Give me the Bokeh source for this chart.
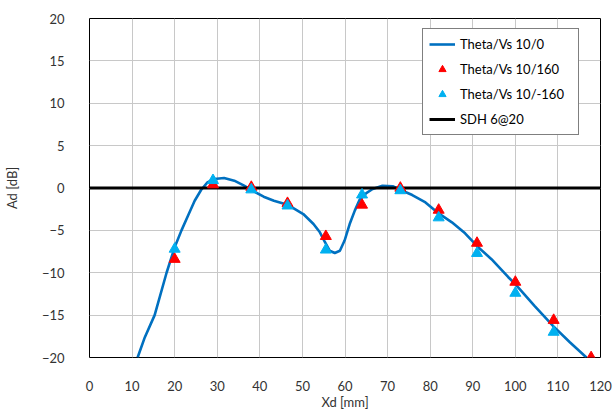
from bokeh.plotting import figure
from bokeh.models import Range1d, FixedTicker, Legend, LegendItem
from bokeh.embed import file_html
from bokeh.resources import INLINE

# --- data ---
curve_x = [11.3, 13.0, 15.3, 18.1, 20.0, 21.6, 23.1, 24.7, 26.2, 27.7, 29.3, 31.6, 34.0, 36.3,
           38.6, 40.9, 43.3, 46.5, 50.2, 52.6, 54.1, 55.3, 56.4, 57.6, 58.8, 59.9, 61.1, 62.3,
           63.4, 65.0, 66.5, 68.8, 71.2, 73.1, 75.8, 78.9, 82.0, 85.1, 88.2, 91.1, 94.4, 98.3,
           100.2, 104.5, 108.9, 112.8, 116.7]
curve_y = [-20.0, -17.6, -15.0, -10.0, -7.0, -5.0, -3.3, -1.5, -0.24, 0.66, 1.06, 1.18, 0.86, 0.27,
           -0.4, -1.03, -1.5, -1.97, -3.07, -4.25, -5.23, -6.4, -7.4, -7.67, -7.4, -6.2, -4.25, -2.67,
           -1.42, -0.6, -0.12, 0.27, 0.2, -0.24, -0.83, -1.7, -3.0, -4.05, -5.35, -6.9, -8.4, -10.5,
           -11.45, -13.9, -16.3, -18.2, -20.0]

red_x = [20, 29, 38, 46.5, 55.5, 64, 73, 82, 91, 100, 109, 117.8]
red_y = [-8.4, 0.4, 0.1, -1.8, -5.7, -2.0, 0.0, -2.6, -6.5, -11.1, -15.6, -20.0]

blue_x = [20, 29, 38, 46.5, 55.5, 64, 73, 82, 91, 100, 109]
blue_y = [-7.2, 0.9, -0.2, -2.1, -7.3, -0.8, -0.3, -3.5, -7.7, -12.4, -17.0]

sdh_x = [0, 120]
sdh_y = [0, 0]

x_ticks = list(range(0, 121, 10))
y_ticks = list(range(-20, 21, 5))

FONT = "Lato"
TXT = "#333333"

p = figure(width=614, height=414, output_backend="svg", toolbar_location=None,
           x_range=Range1d(0, 120), y_range=Range1d(-20, 20),
           min_border_left=84, min_border_right=14, min_border_top=18, min_border_bottom=57)

p.outline_line_color = "#000000"
p.outline_line_width = 1
p.background_fill_color = "white"
p.border_fill_color = "white"

for ax in (p.xaxis, p.yaxis):
    ax.major_tick_line_color = None
    ax.minor_tick_line_color = None
    ax.axis_line_color = None
    ax.major_label_text_font = FONT
    ax.major_label_text_font_size = "13px"
    ax.major_label_text_color = TXT
    ax.axis_label_text_font = FONT
    ax.axis_label_text_font_size = "13px"
    ax.axis_label_text_font_style = "normal"
    ax.axis_label_text_color = TXT

p.xaxis.ticker = FixedTicker(ticks=x_ticks)
p.yaxis.ticker = FixedTicker(ticks=y_ticks)
p.xaxis.axis_label = "Xd [mm]"
p.yaxis.axis_label = "Ad [dB]"
p.xaxis.major_label_standoff = 17
p.yaxis.major_label_standoff = 19
p.xaxis.axis_label_standoff = 0
p.yaxis.axis_label_standoff = 19

p.xgrid.grid_line_color = "#c8c8c8"
p.ygrid.grid_line_color = "#c8c8c8"
p.xgrid.grid_line_width = 1
p.ygrid.grid_line_width = 1

r_curve = p.line(curve_x, curve_y, line_color="#0070C0", line_width=2.6)
r_sdh = p.line(sdh_x, sdh_y, line_color="#000000", line_width=3)
r_red = p.scatter(red_x, red_y, marker="triangle", size=11, fill_color="#FF0000", line_color="#FF0000")
r_blue = p.scatter(blue_x, blue_y, marker="triangle", size=11, fill_color="#00B0F0", line_color="#00B0F0")

legend = Legend(items=[
    LegendItem(label="Theta/Vs 10/0", renderers=[r_curve]),
    LegendItem(label="Theta/Vs 10/160", renderers=[r_red]),
    LegendItem(label="Theta/Vs 10/-160", renderers=[r_blue]),
    LegendItem(label="SDH 6@20", renderers=[r_sdh]),
], location=(333, 222))
legend.border_line_color = "#000000"
legend.border_line_width = 1
legend.background_fill_color = "white"
legend.background_fill_alpha = 1
legend.label_text_font = FONT
legend.label_text_font_size = "13px"
legend.label_text_color = "#000000"
legend.glyph_width = 26
legend.glyph_height = 18
legend.spacing = 7
legend.padding = 6
legend.label_standoff = 5
legend.label_width = 112
legend.margin = 0
p.add_layout(legend, "center")

open("out.html", "w").write(file_html(p, INLINE))
